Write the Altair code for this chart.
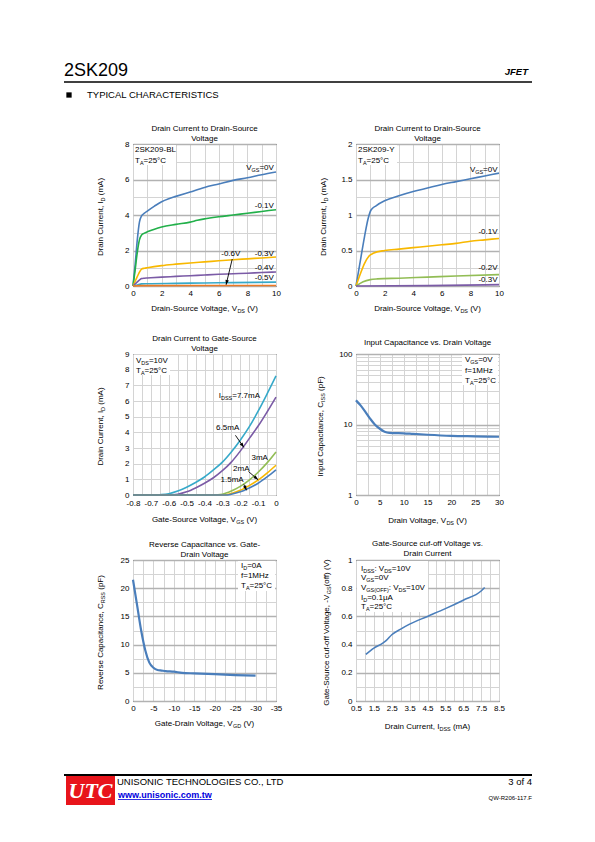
import math
import altair as alt
import pandas as pd

FONT = "Liberation Sans"
SERIF = "Liberation Serif"
PW = 143          # plot width (all panels)
H1 = 142          # plot height, row 1
H2 = 141          # plot height, rows 2-3
ONE = pd.DataFrame({"k": [0]})

# ---------------- data ----------------
# Chart 1 : 2SK209-BL  I_D (mA) vs V_DS (V)
bl_vgs_labels = ["0V", "-0.1V", "-0.3V", "-0.4V", "-0.5V", "-0.6V"]
bl_x_0 = [0, 0.15, 0.3, 0.45, 0.6, 0.8, 1, 1.5, 2, 2.5, 3, 4, 5, 6, 7, 8, 9, 10]
bl_y_0 = [0, 1.2, 2.6, 3.6, 3.95, 4.1, 4.22, 4.5, 4.75, 4.92, 5.05, 5.3, 5.55, 5.75, 5.95, 6.1, 6.27, 6.42]
bl_x_1 = [0, 0.15, 0.3, 0.45, 0.6, 0.8, 1, 1.5, 2, 3, 4, 4.5, 5, 6, 7, 8, 9, 10]
bl_y_1 = [0, 0.9, 1.9, 2.6, 2.88, 2.98, 3.05, 3.2, 3.32, 3.47, 3.6, 3.7, 3.78, 3.9, 4.0, 4.1, 4.2, 4.3]
bl_x_3 = [0, 0.2, 0.4, 0.6, 0.8, 1, 2, 3, 4, 5, 6, 7, 8, 9, 10]
bl_y_3 = [0, 0.35, 0.7, 0.95, 1.0, 1.03, 1.15, 1.23, 1.3, 1.36, 1.42, 1.48, 1.53, 1.58, 1.63]
bl_x_4 = [0, 0.2, 0.4, 0.6, 0.8, 1, 2, 3, 4, 5, 6, 7, 8, 9, 10]
bl_y_4 = [0, 0.15, 0.3, 0.42, 0.44, 0.45, 0.5, 0.54, 0.58, 0.62, 0.66, 0.69, 0.72, 0.76, 0.79]
bl_x_5 = [0, 0.3, 0.6, 1, 3, 5, 7, 10]
bl_y_5 = [0, 0.06, 0.12, 0.13, 0.15, 0.17, 0.19, 0.22]
bl_x_6 = [0, 0.5, 10]
bl_y_6 = [0, 0.02, 0.03]

# Chart 2 : 2SK209-Y  I_D (mA) vs V_DS (V)
y_vgs_labels = ["0V", "-0.1V", "-0.2V", "-0.3V"]
y_x_0 = [0, 0.3, 0.6, 0.85, 1.05, 1.4, 2, 3, 4, 5, 6, 7, 8, 9, 10]
y_y_0 = [0, 0.35, 0.7, 0.95, 1.07, 1.13, 1.2, 1.27, 1.33, 1.38, 1.43, 1.47, 1.51, 1.55, 1.59]
y_x_1 = [0, 0.3, 0.6, 0.9, 1.2, 2, 3, 4, 5, 6, 7, 8, 9, 10]
y_y_1 = [0, 0.17, 0.32, 0.42, 0.46, 0.5, 0.52, 0.54, 0.56, 0.58, 0.6, 0.63, 0.65, 0.67]
y_x_2 = [0, 0.5, 1, 1.5, 3, 5, 7, 10]
y_y_2 = [0, 0.06, 0.09, 0.1, 0.11, 0.125, 0.14, 0.16]
y_x_3 = [0, 5, 10]
y_y_3 = [0, 0.005, 0.02]

# Chart 3 : I_D (mA) vs V_GS (V) for several I_DSS
gs_labels = ["7.7mA", "6.5mA", "3mA", "2mA", "1.5mA"]
gs_x_77 = [-0.8, -0.7, -0.65, -0.6, -0.55, -0.5, -0.45, -0.4, -0.35, -0.3, -0.25, -0.2, -0.15, -0.1, -0.05, 0]
gs_y_77 = [0, 0, 0.02, 0.08, 0.25, 0.5, 0.8, 1.15, 1.6, 2.1, 2.75, 3.5, 4.35, 5.35, 6.45, 7.6]
gs_x_65 = [-0.8, -0.6, -0.55, -0.5, -0.45, -0.4, -0.35, -0.3, -0.25, -0.2, -0.15, -0.1, -0.05, 0]
gs_y_65 = [0, 0, 0.05, 0.2, 0.45, 0.75, 1.1, 1.55, 2.1, 2.8, 3.6, 4.4, 5.3, 6.25]
gs_x_3 = [-0.8, -0.35, -0.3, -0.25, -0.2, -0.15, -0.1, -0.05, 0]
gs_y_3 = [0, 0, 0.05, 0.25, 0.55, 0.95, 1.45, 2.05, 2.75]
gs_x_2 = [-0.8, -0.3, -0.25, -0.2, -0.15, -0.1, -0.05, 0]
gs_y_2 = [0, 0, 0.1, 0.3, 0.6, 0.95, 1.4, 1.9]
gs_x_15 = [-0.8, -0.28, -0.25, -0.2, -0.15, -0.1, -0.05, 0]
gs_y_15 = [0, 0, 0.05, 0.2, 0.45, 0.75, 1.15, 1.6]

# Chart 4 : C_iss (pF) vs V_DS (V)
ciss_vds = [0, 1, 2, 3, 4, 5, 6, 7, 8, 10, 12, 15, 20, 25, 30]
ciss_pf = [22, 18.5, 15, 12, 9.9, 8.7, 7.9, 7.6, 7.55, 7.5, 7.35, 7.15, 6.9, 6.8, 6.7]

# Chart 5 : C_rss (pF) vs V_GD (V)
crss_vgd = [0, -1, -2, -3, -4, -5, -6, -7, -8, -10, -12, -15, -20, -25, -30]
crss_pf = [21.5, 17, 12.5, 9, 6.8, 5.9, 5.5, 5.4, 5.3, 5.2, 5.0, 4.9, 4.75, 4.6, 4.5]

# Chart 6 : -V_GS(off) (V) vs I_DSS (mA)
off_idss = [1.05, 1.5, 2, 2.2, 2.5, 3, 3.5, 4.5, 5.5, 6.5, 7.5, 7.7]
off_vgs = [0.33, 0.375, 0.41, 0.43, 0.47, 0.51, 0.545, 0.6, 0.655, 0.715, 0.78, 0.805]

# axis tick / grid positions
t1_x = list(range(0, 11))
t1_y = list(range(0, 9))
t2_y = [i * 0.25 for i in range(9)]
t3_x = [round(-0.8 + 0.05 * i, 2) for i in range(17)]
t3_y = list(range(0, 10))
t4_x = [i * 2.5 for i in range(13)]
t4_y = [1, 2, 3, 4, 5, 6, 7, 8, 9, 10, 20, 30, 40, 50, 60, 70, 80, 90, 100]
t5_x = [-i * 2.5 for i in range(15)]
t5_y = [i * 2.5 for i in range(11)]
t6_x = [0.5 + 0.5 * i for i in range(17)]
t6_y = [round(0.1 * i, 1) for i in range(11)]

# colours
BLUE = "#4a7ebb"
GREEN = "#22b04a"
YELLOW = "#f8b800"
PURPLE = "#7b5ba6"
TEAL = "#36a9c9"
ORANGE = "#ec7a24"
OLIVE = "#92bd55"
GRID_MAJOR = "#b2b2b2"
GRID_MINOR = "#d4d4d4"

# ---------------- helpers ----------------
AW = {' ': 278, '(': 333, ')': 333, ',': 278, '-': 333, '.': 278, ':': 278, '=': 584,
      '°': 400, 'μ': 576, '/': 278}
for d in "0123456789":
    AW[d] = 556
AW.update({'A': 667, 'B': 667, 'C': 722, 'D': 722, 'E': 667, 'F': 611, 'G': 778, 'H': 722,
           'I': 278, 'J': 500, 'K': 667, 'L': 556, 'M': 833, 'N': 722, 'O': 778, 'P': 667,
           'Q': 778, 'R': 722, 'S': 667, 'T': 611, 'U': 722, 'V': 667, 'W': 944, 'X': 667,
           'Y': 667, 'Z': 611, 'a': 556, 'b': 556, 'c': 500, 'd': 556, 'e': 556, 'f': 278,
           'g': 556, 'h': 556, 'i': 222, 'j': 222, 'k': 500, 'l': 222, 'm': 833, 'n': 556,
           'o': 556, 'p': 556, 'q': 556, 'r': 333, 's': 500, 't': 278, 'u': 556, 'v': 500,
           'w': 722, 'x': 500, 'y': 500, 'z': 500})


def tw(s, size):
    return sum(AW.get(c, 556) for c in s) * size / 1000.0


def txt(text, x, y, size=8, align="left", baseline="middle", font=FONT, color="black", **kw):
    return alt.Chart(ONE).mark_text(text=text, align=align, baseline=baseline, fontSize=size,
                                    font=font, color=color, **kw).encode(
        x=alt.value(x), y=alt.value(y))


def rich(parts, x, y, size=8, align="left", angle=0, enc=None):
    """Text with subscripts. parts: list of (string, is_sub). enc: (X, Y) field encodings for
    data-anchored text, otherwise x,y are pixel positions in the panel."""
    sub = size * 0.68
    widths = [tw(t, sub if s else size) for t, s in parts]
    total = sum(widths)
    off = {"left": 0, "center": -total / 2, "right": -total}[align]
    out = []
    for (t, s), w in zip(parts, widths):
        fs = sub if s else size
        lead = len(t) - len(t.lstrip(" "))
        body = t.strip(" ")
        mk = dict(text=body, align="left", baseline="alphabetic", dx=off + tw(" " * lead, fs),
                  dy=size * 0.36 + (size * 0.24 if s else 0), fontSize=fs,
                  font=FONT, color="black")
        if angle:
            mk["angle"] = angle
        if enc is None:
            ch = alt.Chart(ONE).mark_text(**mk).encode(x=alt.value(x), y=alt.value(y))
        else:
            X, Y = enc
            ch = alt.Chart(pd.DataFrame({"x": [x], "y": [y]})).mark_text(**mk).encode(x=X, y=Y)
        out.append(ch)
        off += w
    return out


HEAD = "M0,0L-0.55,1.5L0.55,1.5Z"


def arrow(x1, y1, x2, y2, X, Y, ppx, ppy):
    df = pd.DataFrame({"x": [x1], "y": [y1], "x2": [x2], "y2": [y2]})
    rule = alt.Chart(df).mark_rule(color="black", strokeWidth=0.9).encode(
        x=X, y=Y, x2="x2:Q", y2="y2:Q")
    dxs = (x2 - x1) * ppx
    dys = -(y2 - y1) * ppy
    ang = math.degrees(math.atan2(dxs, -dys)) % 360
    head = alt.Chart(pd.DataFrame({"x": [x2], "y": [y2]})).mark_point(
        shape=HEAD, filled=True, size=40, color="black", opacity=1, angle=ang,
        strokeWidth=0).encode(x=X, y=Y)
    return [rule, head]


def lines(series, colors, X, Y, sw=1.6):
    out = []
    for (name, xs, ys), col in zip(series, colors):
        df = pd.DataFrame({"x": xs, "y": ys, "o": list(range(len(xs)))})
        out.append(alt.Chart(df).mark_line(strokeWidth=sw, interpolate="monotone", color=col).encode(
            x=X, y=Y, order="o:Q"))
    return out


def axis(values, test, fmt, pad, major_grid=False):
    kw = {}
    if major_grid:
        kw["gridColor"] = {"condition": {"test": test, "value": GRID_MAJOR}, "value": GRID_MINOR}
        kw["gridWidth"] = {"condition": {"test": test, "value": 1.3}, "value": 1}
    else:
        kw["gridColor"] = GRID_MINOR
        kw["gridWidth"] = 1
    return alt.Axis(values=values, title=None, grid=True, ticks=False, domain=False,
                    labelExpr=f"({test}) ? ({fmt}) : ''", labelPadding=pad,
                    labelFont=FONT, labelFontSize=8, labelColor="black",
                    labelFlush=False, labelOverlap=False, **kw)


def whitebox(x1, x2, y1, y2):
    return alt.Chart(ONE).mark_rect(fill="white").encode(
        x=alt.value(x1), x2=alt.value(x2), y=alt.value(y1), y2=alt.value(y2))


def decorations(H, title_lines, title_ys, xt, xt_y, yt, yt_x):
    out = []
    for t, ty in zip(title_lines, title_ys):
        out.append(txt(t, PW / 2, ty, size=8, align="center"))
    out += rich(xt, PW / 2, xt_y, size=8, align="center")
    out += rich(yt, yt_x, H / 2 + 2, size=8, align="center", angle=270)
    return out


def panel(layers, H):
    return alt.layer(*layers).properties(
        width=PW, height=H, view=alt.ViewBackground(stroke="black", strokeWidth=1))


# ---------------- chart 1 ----------------
sx1 = alt.Scale(domain=[0, 10], nice=False, zero=False)
sy1 = alt.Scale(domain=[0, 8], nice=False, zero=False)
X1 = alt.X("x:Q", scale=sx1, axis=axis(t1_x, "datum.value % 2 == 0", "format(datum.value,'~g')", 3))
Y1 = alt.Y("y:Q", scale=sy1, axis=axis(t1_y, "datum.value % 2 == 0", "format(datum.value,'~g')", 4, True))
E1 = (X1, Y1)
c1 = [whitebox(1, 43, 1, 21)]
c1 += lines([(bl_vgs_labels[0], bl_x_0, bl_y_0), (bl_vgs_labels[1], bl_x_1, bl_y_1),
             (bl_vgs_labels[2], bl_x_3, bl_y_3), (bl_vgs_labels[3], bl_x_4, bl_y_4),
             (bl_vgs_labels[4], bl_x_5, bl_y_5), (bl_vgs_labels[5], bl_x_6, bl_y_6)],
            [BLUE, GREEN, YELLOW, PURPLE, TEAL, ORANGE], X1, Y1)
c1 += arrow(6.94, 1.52, 6.51, 0.07, X1, Y1, PW / 10, H1 / 8)
c1 += [txt("2SK209-BL", 2, 6, size=8)]
c1 += rich([("T", 0), ("A", 1), ("=25°C", 0)], 2, 16, size=8)
c1 += rich([("V", 0), ("GS", 1), ("=" + bl_vgs_labels[0], 0)], 9.85, 6.7, align="right", enc=E1)
c1 += rich([(bl_vgs_labels[1], 0)], 9.85, 4.56, align="right", enc=E1)
c1 += rich([(bl_vgs_labels[2], 0)], 9.85, 1.86, align="right", enc=E1)
c1 += rich([(bl_vgs_labels[3], 0)], 9.85, 1.09, align="right", enc=E1)
c1 += rich([(bl_vgs_labels[4], 0)], 9.85, 0.52, align="right", enc=E1)
c1 += rich([(bl_vgs_labels[5], 0)], 6.84, 1.86, align="center", enc=E1)
c1 += decorations(H1, ["Drain Current to Drain-Source", "Voltage"], [-15.5, -5.3],
                  [("Drain-Source Voltage, V", 0), ("DS", 1), (" (V)", 0)], H1 + 22,
                  [("Drain Current, I", 0), ("D", 1), (" (mA)", 0)], -32.5)
chart1 = panel(c1, H1)

# ---------------- chart 2 ----------------
sy2 = alt.Scale(domain=[0, 2], nice=False, zero=False)
X2 = alt.X("x:Q", scale=sx1, axis=axis(t1_x, "datum.value % 2 == 0", "format(datum.value,'~g')", 3))
Y2 = alt.Y("y:Q", scale=sy2, axis=axis(t2_y, "round(datum.value*4) % 2 == 0", "format(datum.value,'~g')", 4, True))
E2 = (X2, Y2)
c2 = [whitebox(1, 41, 1, 21)]
c2 += lines([(y_vgs_labels[0], y_x_0, y_y_0), (y_vgs_labels[1], y_x_1, y_y_1),
             (y_vgs_labels[2], y_x_2, y_y_2), (y_vgs_labels[3], y_x_3, y_y_3)],
            [BLUE, YELLOW, OLIVE, PURPLE], X2, Y2)
c2 += [txt("2SK209-Y", 2, 6, size=8)]
c2 += rich([("T", 0), ("A", 1), ("=25°C", 0)], 2, 16, size=8)
c2 += rich([("V", 0), ("GS", 1), ("=" + y_vgs_labels[0], 0)], 9.9, 1.645, align="right", enc=E2)
c2 += rich([(y_vgs_labels[1], 0)], 9.9, 0.77, align="right", enc=E2)
c2 += rich([(y_vgs_labels[2], 0)], 9.9, 0.26, align="right", enc=E2)
c2 += rich([(y_vgs_labels[3], 0)], 9.9, 0.096, align="right", enc=E2)
c2 += decorations(H1, ["Drain Current to Drain-Source", "Voltage"], [-15.5, -5.3],
                  [("Drain-Source Voltage, V", 0), ("DS", 1), (" (V)", 0)], H1 + 22,
                  [("Drain Current, I", 0), ("D", 1), (" (mA)", 0)], -33)
chart2 = panel(c2, H1)

# ---------------- chart 3 ----------------
sx3 = alt.Scale(domain=[-0.8, 0], nice=False, zero=False)
sy3 = alt.Scale(domain=[0, 9], nice=False, zero=False)
X3 = alt.X("x:Q", scale=sx3, axis=axis(
    t3_x, "round(datum.value*20) % 2 == 0",
    "datum.value == 0 ? '0' : '-' + format(abs(datum.value),'.1f')", 4.5))
Y3 = alt.Y("y:Q", scale=sy3, axis=axis(t3_y, "true", "format(datum.value,'~g')", 4))
E3 = (X3, Y3)
ppx3, ppy3 = PW / 0.8, H2 / 9
c3 = [whitebox(1, 37, 1, 21)]
c3 += lines([(gs_labels[0], gs_x_77, gs_y_77), (gs_labels[1], gs_x_65, gs_y_65),
             (gs_labels[2], gs_x_3, gs_y_3), (gs_labels[3], gs_x_2, gs_y_2),
             (gs_labels[4], gs_x_15, gs_y_15)],
            [TEAL, PURPLE, OLIVE, YELLOW, BLUE], X3, Y3)
c3 += arrow(-0.227, 3.81, -0.18, 3.04, X3, Y3, ppx3, ppy3)
c3 += arrow(-0.154, 1.5, -0.1, 0.97, X3, Y3, ppx3, ppy3)
c3 += arrow(-0.18, 0.68, -0.165, 0.3, X3, Y3, ppx3, ppy3)
c3 += rich([("V", 0), ("DS", 1), ("=10V", 0)], 3, 6.3, size=8)
c3 += rich([("T", 0), ("A", 1), ("=25°C", 0)], 3, 16.5, size=8)
c3 += rich([("I", 0), ("DSS", 1), ("=" + gs_labels[0], 0)], -0.32, 6.37, enc=E3)
c3 += rich([(gs_labels[1], 0)], -0.335, 4.35, enc=E3)
c3 += rich([(gs_labels[2], 0)], -0.137, 2.4, enc=E3)
c3 += rich([(gs_labels[3], 0)], -0.24, 1.74, enc=E3)
c3 += rich([(gs_labels[4], 0)], -0.31, 1.02, enc=E3)
c3 += decorations(H2, ["Drain Current to Gate-Source", "Voltage"], [-15.5, -5.3],
                  [("Gate-Source Voltage, V", 0), ("GS", 1), (" (V)", 0)], H2 + 24,
                  [("Drain Current, I", 0), ("D", 1), (" (mA)", 0)], -32.5)
chart3 = panel(c3, H2)

# ---------------- chart 4 ----------------
sx4 = alt.Scale(domain=[0, 30], nice=False, zero=False)
sy4 = alt.Scale(type="log", domain=[1, 100], nice=False)
X4 = alt.X("x:Q", scale=sx4, axis=axis(t4_x, "round(datum.value*2) % 2 == 0", "format(datum.value,'~g')", 3))
Y4 = alt.Y("y:Q", scale=sy4, axis=axis(t4_y, "datum.value == 1 || datum.value == 10 || datum.value == 100",
                                         "format(datum.value,'~g')", 4, True))
c4 = [whitebox(106, 142, 1, 31)]
c4 += lines([("Ciss", ciss_vds, ciss_pf)], [BLUE], X4, Y4, sw=2.2)
c4 += rich([("V", 0), ("GS", 1), ("=0V", 0)], 109, 5.5, size=8)
c4 += rich([("f=1MHz", 0)], 109, 15.8, size=8)
c4 += rich([("T", 0), ("A", 1), ("=25°C", 0)], 109, 26, size=8)
c4 += decorations(H2, ["Input Capacitance vs. Drain Voltage"], [-11.5],
                  [("Drain Voltage, V", 0), ("DS", 1), (" (V)", 0)], H2 + 25,
                  [("Input Capacitance, C", 0), ("ISS", 1), (" (pF)", 0)], -36)
chart4 = panel(c4, H2)

# ---------------- chart 5 ----------------
sx5 = alt.Scale(domain=[0, -35], nice=False, zero=False)
sy5 = alt.Scale(domain=[0, 25], nice=False, zero=False)
X5 = alt.X("x:Q", scale=sx5, axis=axis(
    t5_x, "datum.value % 5 == 0",
    "datum.value == 0 ? '0' : '-' + format(abs(datum.value),'~g')", 3))
Y5 = alt.Y("y:Q", scale=sy5, axis=axis(t5_y, "datum.value % 5 == 0", "format(datum.value,'~g')", 4, True))
c5 = [whitebox(105, 142, 1, 31)]
c5 += lines([("Crss", crss_vgd, crss_pf)], [BLUE], X5, Y5, sw=2.2)
c5 += rich([("I", 0), ("D", 1), ("=0A", 0)], 108, 5, size=8)
c5 += rich([("f=1MHz", 0)], 108, 15, size=8)
c5 += rich([("T", 0), ("A", 1), ("=25°C", 0)], 108, 25.5, size=8)
c5 += decorations(H2, ["Reverse Capacitance vs. Gate-", "Drain Voltage"], [-14.7, -4.7],
                  [("Gate-Drain Voltage, V", 0), ("GD", 1), (" (V)", 0)], H2 + 22,
                  [("Reverse Capacitance, C", 0), ("RSS", 1), (" (pF)", 0)], -33)
chart5 = panel(c5, H2)

# ---------------- chart 6 ----------------
sx6 = alt.Scale(domain=[0.5, 8.5], nice=False, zero=False)
sy6 = alt.Scale(domain=[0, 1], nice=False, zero=False)
X6 = alt.X("x:Q", scale=sx6, axis=axis(t6_x, "(datum.value - 0.5) % 1 == 0", "format(datum.value,'.1f')", 3))
Y6 = alt.Y("y:Q", scale=sy6, axis=axis(t6_y, "round(datum.value*10) % 2 == 0", "format(datum.value,'~g')", 4, True))
c6 = [whitebox(1, 72, 1, 52)]
c6 += lines([("Voff", off_idss, off_vgs)], [BLUE], X6, Y6, sw=1.6)
c6 += rich([("I", 0), ("DSS", 1), (": V", 0), ("DS", 1), ("=10V", 0)], 5, 7.7, size=8)
c6 += rich([("V", 0), ("GS", 1), ("=0V", 0)], 5, 16.7, size=8)
c6 += rich([("V", 0), ("GS(OFF)", 1), (": V", 0), ("DS", 1), ("=10V", 0)], 5, 26.7, size=8)
c6 += rich([("I", 0), ("D", 1), ("=0.1μA", 0)], 5, 37, size=8)
c6 += rich([("T", 0), ("A", 1), ("=25°C", 0)], 5, 46, size=8)
c6 += decorations(H2, ["Gate-Source cuf-off Voltage vs.", "Drain Current"], [-15.7, -5.7],
                  [("Drain Current, I", 0), ("DSS", 1), (" (mA)", 0)], H2 + 25,
                  [("Gate-Source cuf-off Voltage, -V", 0), ("GS", 1), ("(off) (V)", 0)], -30)
chart6 = panel(c6, H2)

# ---------------- page header / footer (drawn in the first grid column) ----------------
header = alt.layer(
    txt("2SK209", 55, 67, size=18, baseline="alphabetic"),
    txt("JFET", 519, 66, size=9.5, align="right", baseline="alphabetic",
        fontStyle="italic", fontWeight="bold"),
    alt.Chart(ONE).mark_rule(color="black", strokeWidth=1.5).encode(
        x=alt.value(55), x2=alt.value(523), y=alt.value(73)),
    alt.Chart(ONE).mark_point(shape="square", filled=True, size=28, color="black", opacity=1).encode(
        x=alt.value(60), y=alt.value(86)),
    txt("TYPICAL CHARACTERISTICS", 78, 86, size=9.5),
).properties(width=44, height=135)

url = "www.unisonic.com.tw"
footer = alt.layer(
    alt.Chart(ONE).mark_rule(color="black", strokeWidth=2).encode(
        x=alt.value(55), x2=alt.value(523), y=alt.value(74)),
    alt.Chart(ONE).mark_rect(fill="#e8141b").encode(
        x=alt.value(57), x2=alt.value(106), y=alt.value(75), y2=alt.value(104)),
    txt("UTC", 81.5, 90, size=22, align="center", font=SERIF, color="white",
        fontStyle="italic", fontWeight="bold"),
    txt("UNISONIC TECHNOLOGIES CO., LTD", 108, 81, size=9.5),
    txt(url, 109, 94, size=9, color="#0000dd", fontWeight="bold"),
    alt.Chart(ONE).mark_rule(color="#0000dd", strokeWidth=0.8).encode(
        x=alt.value(109), x2=alt.value(203), y=alt.value(98.5)),
    txt("3 of 4", 523, 81, size=9.5, align="right"),
    txt("QW-R206-117.F", 523, 97, size=6, align="right"),
).properties(width=44, height=120)


def blank(w, h):
    return alt.Chart(ONE).mark_point(opacity=0, size=1).encode(
        x=alt.value(10), y=alt.value(10)).properties(width=w, height=h)


cells = [
    header, blank(PW, 135), blank(PW, 135),
    blank(44, H1), chart1, chart2,
    blank(44, 68), blank(PW, 68), blank(PW, 68),
    blank(44, H2), chart3, chart4,
    blank(44, 65), blank(PW, 65), blank(PW, 65),
    blank(44, H2), chart5, chart6,
    footer, blank(PW, 120), blank(PW, 120),
]

chart = alt.concat(*cells, columns=3, spacing=alt.RowColnumber(row=0, column=80),
                   bounds="flush", align="each").properties(padding=0).configure_view(
    stroke="transparent").configure_axis(labelFont=FONT, labelFontSize=8, labelColor="black")

chart.save("out.html", embed_options={"renderer": "svg", "actions": False})
